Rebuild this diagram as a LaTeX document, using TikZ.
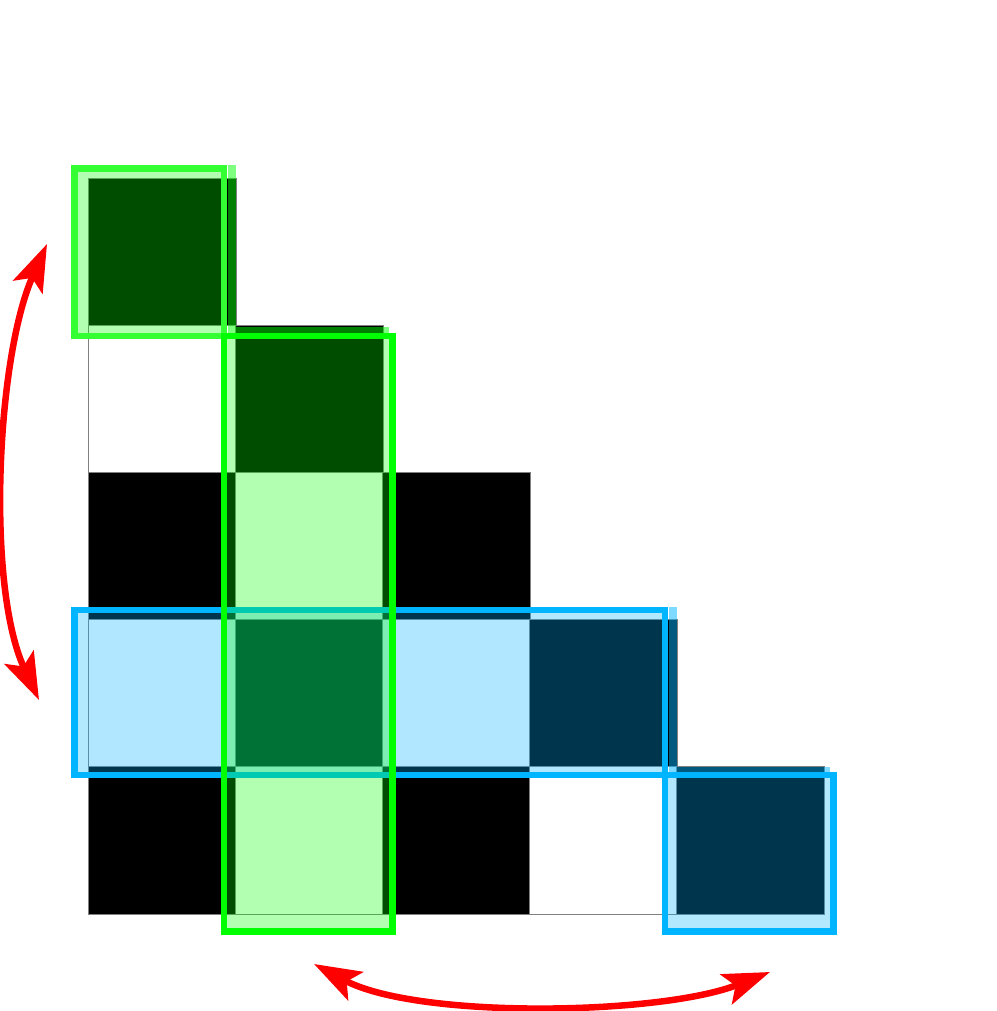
\documentclass[tikz,border=0pt]{standalone}
\usepackage{tikz}
\usetikzlibrary{arrows.meta,positioning}
\definecolor{hlgreen}{RGB}{0,255,0}
\definecolor{hllime}{RGB}{51,255,51}
\definecolor{hlblue}{RGB}{0,181,255}
\tikzset{
	cell/.style={draw=gray, line width=0.3pt, minimum size=1.47cm, inner sep=0pt, outer sep=0pt},
	greenbox/.style={draw=hlgreen, fill=hlgreen, fill opacity=0.3, line width=0.068cm},
	bluebox/.style={draw=hlblue, fill=hlblue, fill opacity=0.3, line width=0.068cm},
	halfband/.style={fill opacity=0.5},
	swaparrow/.style={red, line width=0.065cm, >={Stealth[length=0.47cm, width=0.32cm, inset=0.1cm]}, <->}
}

\begin{document}
\begin{tikzpicture}[x=0.01cm, y=-0.01cm]
		\path[use as bounding box] (0,0) rectangle (997,1011);
		
		\foreach \rr/\cc/\tone in {0/0/black, 1/0/white, 1/1/black, 2/0/black, 2/1/white, 2/2/black,
				3/0/white, 3/1/black, 3/2/white, 3/3/black, 4/0/black, 4/1/white, 4/2/black, 4/3/white, 4/4/black}
			\node[cell, fill=\tone]	(c\rr\cc)	at	({162.5+147*\cc},{252.5+147*\rr})	{};
		
		\draw[bluebox]		(74.5,610)		rectangle	(665,775);
		\fill[hlblue, halfband]	(668.5,607)		rectangle	(677,767);
		\draw[bluebox]		(665,775)		rectangle	(833.5,931.5);
		\fill[hlblue, halfband]	(668.5,767)		rectangle	(830,771.5);
		
		\draw[greenbox, draw=hllime]	(74.5,168.5)	rectangle	(224,336);
		\fill[hlgreen, halfband]	(227.5,165)		rectangle	(236,327);
		\draw[greenbox]		(224,336)		rectangle	(392.5,931.5);
		\fill[hlgreen, halfband]	(227.5,327)		rectangle	(389,332.5);
		
		\coordinate	(rowtop)	at	(47,244);
		\coordinate	(rowbot)	at	(39,700);
		\coordinate	(colleft)	at	(314,964);
		\coordinate	(colright)	at	(770,972);
		\draw[swaparrow] (rowtop) to[out=246, in=115, looseness=0.7] (rowbot);
		\draw[swaparrow] (colleft) to[out=-28, in=201.5, looseness=0.66] (colright);
	\end{tikzpicture}
\end{document}
